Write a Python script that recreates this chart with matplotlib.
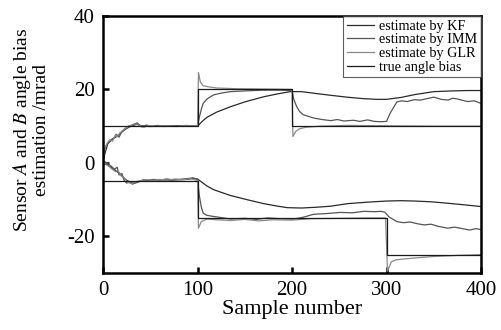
import matplotlib.pyplot as plt

plt.rcParams['font.family'] = ['Liberation Serif', 'DejaVu Serif']
plt.rcParams['mathtext.fontset'] = 'stix'
plt.rcParams['axes.unicode_minus'] = False

# sensor A (upper group) and sensor B (lower group), values in mrad

true_t_A = [0, 100, 200, 400]
true_A = [10, 20, 10, 10]
true_t_B = [0, 100, 300, 400]
true_B = [-5, -15, -25, -25]

kf_t_A = [0, 2, 5, 8, 12, 16, 20, 24, 28, 32, 36, 40, 50, 60, 70, 80, 90, 100, 105, 110, 120, 135, 150, 170, 185, 198,
          210, 225, 241, 258, 275, 290, 300, 315, 330, 350, 370, 385, 400]
kf_A = [0, 2.5, 5.2, 6.0, 6.8, 7.4, 8.4, 9.2, 9.8, 10.2, 10.5, 10.1, 9.9, 10.1, 10.0, 10.1, 10.0, 10.0, 11.3, 12.4,
        13.8, 15.3, 16.6, 18.0, 18.8, 19.4, 19.4, 18.9, 18.4, 17.9, 17.5, 17.3, 17.3, 17.8, 18.6, 19.4, 19.6, 19.7, 19.7]

imm_t_A = [0, 1, 3, 6, 9, 12, 14, 17, 20, 23, 27, 32, 36, 41, 46, 52, 58, 65, 72, 80, 88, 95, 100, 102, 104, 106, 110,
           117, 125, 135, 150, 170, 188, 200, 202, 205, 208, 212, 223, 232, 241, 248, 255, 265, 272, 280, 287, 294, 300,
           304, 311, 316, 322, 329, 336, 343, 350, 358, 365, 370, 375, 381, 386, 393, 400]
imm_A = [0, 3.2, 4.6, 5.5, 6.4, 6.9, 7.8, 7.0, 8.6, 9.3, 10.0, 10.4, 10.9, 9.8, 10.3, 9.9, 10.2, 9.9, 10.1, 10.0, 10.2,
         10.0, 10.0, 12.5, 14.6, 16.2, 17.4, 18.5, 19.0, 19.4, 19.6, 19.8, 19.8, 19.7, 17.2, 15.3, 14.0, 13.1, 12.2, 11.8,
         11.5, 11.8, 11.4, 11.6, 11.3, 11.7, 11.3, 11.2, 11.3, 13.6, 16.6, 16.9, 16.7, 17.2, 17.1, 17.5, 17.9, 17.3, 17.1,
         17.6, 17.4, 17.0, 16.7, 16.9, 16.2]

glr_t_A = [0, 2, 4, 7, 10, 13, 15, 18, 21, 25, 29, 33, 38, 43, 49, 55, 62, 70, 78, 86, 94, 100, 101, 103, 106, 112, 120,
           140, 170, 200, 201, 204, 208, 215, 230, 260, 300, 350, 400]
glr_A = [0.5, 4.0, 5.2, 6.3, 5.9, 7.5, 7.1, 8.2, 8.8, 9.6, 10.1, 10.6, 10.3, 9.7, 10.2, 9.9, 10.1, 10.0, 9.9, 10.1, 10.0,
         10.0, 24.6, 22.0, 21.0, 20.7, 20.4, 20.2, 20.1, 20.0, 7.2, 8.6, 9.3, 9.7, 10.0, 10.2, 10.1, 10.0, 10.0]

kf_t_B = [0, 3, 6, 10, 14, 18, 22, 26, 30, 35, 42, 50, 60, 70, 80, 90, 95, 100, 110, 117, 135, 152, 170, 185, 195, 210,
          225, 241, 259, 280, 300, 315, 330, 347, 365, 385, 400]
kf_B = [0, -0.3, -0.8, -1.4, -2.2, -3.0, -4.1, -4.9, -5.3, -5.4, -4.8, -4.7, -4.6, -4.7, -4.6, -4.5, -4.2, -4.4, -6.3,
        -7.3, -8.9, -10.0, -11.1, -11.8, -12.2, -12.3, -12.1, -11.8, -11.1, -10.7, -10.4, -10.3, -10.4, -10.6, -11.0,
        -11.5, -11.9]

imm_t_B = [0, 2, 5, 9, 12, 15, 17, 20, 22, 25, 28, 31, 34, 38, 43, 48, 54, 60, 67, 74, 81, 88, 95, 100, 102, 104, 106,
           110, 117, 125, 135, 150, 162, 174, 188, 202, 212, 223, 237, 251, 264, 276, 288, 294, 298, 303, 311, 318, 325,
           333, 340, 347, 355, 365, 372, 380, 388, 395, 400]
imm_B = [0.8, 0.3, -0.2, -1.0, -1.7, -1.2, -3.3, -2.9, -4.6, -5.5, -5.2, -5.8, -5.5, -5.0, -4.6, -4.8, -4.5, -4.7, -4.4,
         -4.6, -4.5, -4.3, -4.1, -4.5, -9.0, -12.0, -13.7, -14.3, -14.6, -14.9, -15.3, -15.1, -15.4, -15.0, -15.2, -15.3,
         -14.8, -14.0, -13.8, -13.5, -13.6, -13.2, -13.3, -13.2, -13.4, -14.8, -16.0, -16.3, -16.1, -16.6, -16.9, -16.7,
         -17.3, -17.8, -17.5, -17.9, -18.3, -17.9, -18.2]

glr_t_B = [0, 3, 6, 10, 13, 16, 19, 23, 26, 30, 35, 40, 46, 53, 60, 68, 76, 84, 92, 100, 101, 104, 110, 120, 135, 150,
           165, 180, 200, 220, 250, 280, 299, 301, 305, 310, 330, 350, 375, 400]
glr_B = [0.3, -0.4, -0.9, -1.8, -2.4, -2.1, -3.5, -4.2, -5.3, -5.6, -5.1, -4.9, -4.6, -4.8, -4.5, -4.7, -4.4, -4.6, -4.3,
         -4.8, -17.8, -16.0, -15.3, -15.5, -15.7, -15.4, -15.8, -15.5, -15.6, -15.2, -15.1, -15.0, -15.0, -29.5, -27.0,
         -26.4, -25.9, -25.5, -25.2, -25.0]

x_ticks = [0, 100, 200, 300, 400]
y_ticks = [-20, 0, 20, 40]

fig = plt.figure(figsize=(5.01, 3.30), dpi=100)
ax = fig.add_axes([0.2056, 0.1727, 0.7545, 0.7788])

lw = 0.9
ax.plot(kf_t_A, kf_A, color='#2a2a2a', lw=lw, label='estimate by KF')
ax.plot(imm_t_A, imm_A, color='#555555', lw=lw, label='estimate by IMM')
ax.plot(glr_t_A, glr_A, color='#8a8a8a', lw=lw, label='estimate by GLR')
ax.plot(true_t_A, true_A, color='#1a1a1a', lw=lw, drawstyle='steps-post', label='true angle bias')

ax.plot(kf_t_B, kf_B, color='#2a2a2a', lw=lw)
ax.plot(imm_t_B, imm_B, color='#555555', lw=lw)
ax.plot(glr_t_B, glr_B, color='#8a8a8a', lw=lw)
ax.plot(true_t_B, true_B, color='#1a1a1a', lw=lw, drawstyle='steps-post')

ax.set_xlim(0, 400)
ax.set_ylim(-30, 40)
ax.set_xticks(x_ticks)
ax.set_yticks(y_ticks)
ax.tick_params(direction='in', length=4, width=1.8, labelsize=15, pad=6)
for s in ax.spines.values():
    s.set_linewidth(1.8)

ax.set_xlabel('Sample number', fontsize=16, labelpad=0)
ax.set_ylabel('Sensor $\\mathit{A}$ and $\\mathit{B}$ angle bias\nestimation /mrad', fontsize=14, linespacing=1.0)
ax.yaxis.set_label_coords(-0.14, 0.556)

leg = ax.legend(loc='upper right', fontsize=10.2, frameon=True, fancybox=False, borderaxespad=0, borderpad=0.25,
                labelspacing=0.05, handlelength=1.9, handletextpad=0.4)
leg.get_frame().set_edgecolor('#333333')
leg.get_frame().set_linewidth(0.8)

fig.savefig('out.png', dpi=100)
